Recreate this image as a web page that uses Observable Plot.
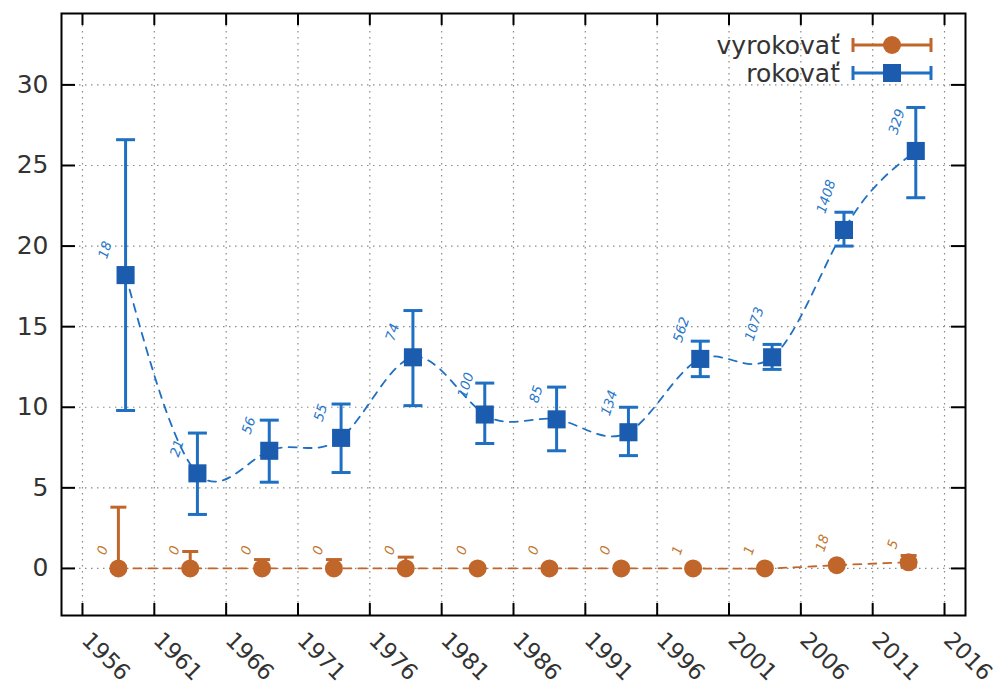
<!DOCTYPE html>
<html><head><meta charset="utf-8">
<script src="https://cdn.jsdelivr.net/npm/d3@7"></script>
<script src="https://cdn.jsdelivr.net/npm/@observablehq/plot@0.6"></script>
<style>
body{margin:0;background:#fff;}
#wrap{position:relative;width:1000px;height:689px;font-family:"DejaVu Sans",sans-serif;}
#legend{position:absolute;left:0;top:0;pointer-events:none;}
</style></head><body><div id="wrap"></div>
<script>
// ---- data ----
const seriesNames = ["vyrokovať", "rokovať"];
const xTicks = [1956, 1961, 1966, 1971, 1976, 1981, 1986, 1991, 1996, 2001, 2006, 2011, 2016];
const yTicks = [0, 5, 10, 15, 20, 25, 30];

const orangeX  = [1958.5, 1963.5, 1968.5, 1973.5, 1978.5, 1983.5, 1988.5, 1993.5, 1998.5, 2003.5, 2008.5, 2013.5];
const orangeY  = [0, 0, 0, 0, 0, 0, 0, 0, 0, 0, 0.2, 0.38];
const orangeLo = [0, 0, 0, 0, 0, 0, 0, 0, 0, 0, 0.1, 0.1];
const orangeHi = [3.8, 1.05, 0.55, 0.55, 0.7, 0, 0, 0, 0, 0, 0.35, 0.8];
const orangeN  = ["0", "0", "0", "0", "0", "0", "0", "0", "1", "1", "18", "5"];

const blueX  = [1959, 1964, 1969, 1974, 1979, 1984, 1989, 1994, 1999, 2004, 2009, 2014];
const blueY  = [18.2, 5.9, 7.3, 8.1, 13.1, 9.55, 9.25, 8.45, 13.0, 13.1, 21.0, 25.9];
const blueLo = [9.8, 3.35, 5.35, 5.95, 10.1, 7.75, 7.3, 7.0, 11.9, 12.35, 20.0, 23.0];
const blueHi = [26.6, 8.4, 9.2, 10.2, 16.0, 11.5, 11.25, 10.0, 14.1, 13.9, 22.1, 28.6];
const blueN  = ["18", "21", "56", "55", "74", "100", "85", "134", "562", "1073", "1408", "329"];

// ---- build tables ----
const orange = orangeX.map((x, i) => ({x, y: orangeY[i], lo: orangeLo[i], hi: orangeHi[i], n: orangeN[i]}));
const blue = blueX.map((x, i) => ({x, y: blueY[i], lo: blueLo[i], hi: blueHi[i], n: blueN[i]}));

const ORANGE = "#c0662a", BLUE = "#1f6fc2", BLUE_SQ = "#1b5cae", BLUE_TXT = "#2a78c8", ORANGE_TXT = "#c2762f";
const FONT = "DejaVu Sans";
const cap = w => ({draw(ctx) { ctx.moveTo(-w, 0); ctx.lineTo(w, 0); }});

const W = 1000, H = 689, mL = 61, mR = 35, mT = 13, mB = 74;
const fw = W - mL - mR, fh = H - mT - mB;

const chart = Plot.plot({
  width: W, height: H,
  marginLeft: mL, marginRight: mR, marginTop: mT, marginBottom: mB,
  style: {fontFamily: FONT, background: "#fff"},
  x: {domain: [1954.54, 2017.46], axis: null},
  y: {domain: [-2.92, 34.43], axis: null},
  marks: [
    Plot.gridX(xTicks, {stroke: "#8a8a8a", strokeOpacity: 1, strokeDasharray: "1.5,4.5", strokeWidth: 1.2}),
    Plot.gridY(yTicks, {stroke: "#8a8a8a", strokeOpacity: 1, strokeDasharray: "1.5,4.5", strokeWidth: 1.2}),
    // dashed connecting curves
    Plot.line(orange, {x: "x", y: "y", curve: "natural", stroke: ORANGE, strokeWidth: 1.8, strokeDasharray: "8,7"}),
    Plot.line(blue, {x: "x", y: "y", curve: "natural", stroke: BLUE, strokeWidth: 1.8, strokeDasharray: "8,7"}),
    // error bars
    Plot.ruleX(orange, {x: "x", y1: "lo", y2: "hi", stroke: ORANGE, strokeWidth: 3}),
    Plot.dot(orange, {x: "x", y: "hi", symbol: cap(8), r: 5, stroke: ORANGE, strokeWidth: 3}),
    Plot.dot(orange, {x: "x", y: "lo", symbol: cap(8), r: 5, stroke: ORANGE, strokeWidth: 3}),
    Plot.ruleX(blue, {x: "x", y1: "lo", y2: "hi", stroke: BLUE, strokeWidth: 3}),
    Plot.dot(blue, {x: "x", y: "hi", symbol: cap(9.5), r: 5, stroke: BLUE, strokeWidth: 3}),
    Plot.dot(blue, {x: "x", y: "lo", symbol: cap(9.5), r: 5, stroke: BLUE, strokeWidth: 3}),
    // markers
    Plot.dot(orange, {x: "x", y: "y", r: 9, fill: ORANGE, stroke: "none"}),
    Plot.dot(blue, {x: "x", y: "y", symbol: "square", r: 10.2, fill: BLUE_SQ, stroke: "none"}),
    // counts
    Plot.text(orange, {x: "x", y: "y", text: "n", rotate: -72, textAnchor: "start", dx: -17, dy: -14,
      fontStyle: "italic", fontSize: 13.5, fill: ORANGE_TXT}),
    Plot.text(blue, {x: "x", y: "y", text: "n", rotate: -72, textAnchor: "start", dx: -23, dy: -17,
      fontStyle: "italic", fontSize: 13.5, fill: BLUE_TXT}),
    // frame & inward ticks
    Plot.frame({stroke: "#000", strokeWidth: 2}),
    Plot.tickX(xTicks, {x: d => d, insetTop: fh - 12, stroke: "#000", strokeWidth: 2}),
    Plot.tickX(xTicks, {x: d => d, insetBottom: fh - 12, stroke: "#000", strokeWidth: 2}),
    Plot.tickY(yTicks, {y: d => d, insetRight: fw - 14, stroke: "#000", strokeWidth: 2}),
    Plot.tickY(yTicks, {y: d => d, insetLeft: fw - 14, stroke: "#000", strokeWidth: 2}),
    // tick labels
    Plot.text(yTicks, {y: d => d, text: d => String(d), frameAnchor: "left", dx: -13, textAnchor: "end",
      fontSize: 25, fill: "#333"}),
    Plot.text(xTicks, {x: d => d, text: d => String(d), frameAnchor: "bottom", dx: -2, dy: 26, rotate: 45,
      textAnchor: "start", fontSize: 22.5, fill: "#333"})
  ]
});
const wrap = document.getElementById("wrap");
wrap.appendChild(chart);

// ---- legend (overlay) ----
const leg = d3.select(wrap).append("svg").attr("id", "legend").attr("width", W).attr("height", H)
  .style("font-family", FONT);
const rows = [
  {name: seriesNames[0], color: ORANGE, fill: ORANGE, shape: "circle", y: 45},
  {name: seriesNames[1], color: BLUE, fill: BLUE_SQ, shape: "square", y: 73}
];
rows.forEach(r => {
  const g = leg.append("g");
  g.append("text").attr("x", 840).attr("y", r.y).attr("text-anchor", "end").attr("dominant-baseline", "central")
    .attr("font-size", 25).attr("fill", "#333").text(r.name);
  g.append("line").attr("x1", 853).attr("x2", 931).attr("y1", r.y).attr("y2", r.y).attr("stroke", r.color).attr("stroke-width", 3);
  [853, 931].forEach(cx => g.append("line").attr("x1", cx).attr("x2", cx).attr("y1", r.y - 7).attr("y2", r.y + 7)
    .attr("stroke", r.color).attr("stroke-width", 3));
  if (r.shape === "circle") g.append("circle").attr("cx", 892).attr("cy", r.y).attr("r", 9).attr("fill", r.fill);
  else g.append("rect").attr("x", 883).attr("y", r.y - 9).attr("width", 18).attr("height", 18).attr("fill", r.fill);
});
</script></body></html>
